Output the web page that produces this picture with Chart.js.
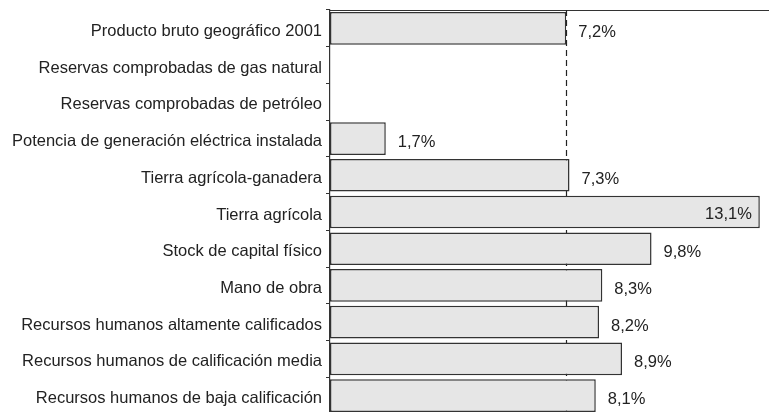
<!DOCTYPE html>
<html>
<head>
<meta charset="utf-8">
<script src="https://cdn.jsdelivr.net/npm/chart.js@4.4.1/dist/chart.umd.min.js"></script>
<style>
  html, body { margin: 0; padding: 0; background: #fff; overflow: hidden; }
  #wrap { width: 769px; height: 416px; }
</style>
</head>
<body>
<div id="wrap"><canvas id="barChart"></canvas></div>
<script>
// Categories and their shares (%)
const categories = [
  'Producto bruto geográfico 2001',
  'Reservas comprobadas de gas natural',
  'Reservas comprobadas de petróleo',
  'Potencia de generación eléctrica instalada',
  'Tierra agrícola-ganadera',
  'Tierra agrícola',
  'Stock de capital físico',
  'Mano de obra',
  'Recursos humanos altamente calificados',
  'Recursos humanos de calificación media',
  'Recursos humanos de baja calificación'
];
const shares = [7.2, null, null, 1.7, 7.3, 13.1, 9.8, 8.3, 8.2, 8.9, 8.1];
const referenceShare = 7.2;  // dashed line at the PBG share

const fontFamily = '"Liberation Sans", Arial, sans-serif';
const fontSize = 16.5;

// Dashed reference line, drawn behind the bars
const refLine = {
  id: 'refLine',
  beforeDatasetsDraw(chart) {
    const { ctx, chartArea, scales } = chart;
    const x = Math.round(scales.x.getPixelForValue(referenceShare)) + 0.5;
    ctx.save();
    ctx.strokeStyle = '#222';
    ctx.lineWidth = 1.2;
    ctx.setLineDash([6, 4]);
    ctx.beginPath();
    ctx.moveTo(x, chartArea.top);
    ctx.lineTo(x, chartArea.bottom);
    ctx.stroke();
    ctx.restore();
  }
};

// Value labels next to each bar (inside for the longest one)
const valueLabels = {
  id: 'valueLabels',
  afterDatasetsDraw(chart) {
    const { ctx } = chart;
    const meta = chart.getDatasetMeta(0);
    ctx.save();
    ctx.font = fontSize + 'px ' + fontFamily;
    ctx.fillStyle = '#222';
    ctx.textBaseline = 'middle';
    meta.data.forEach((bar, i) => {
      const v = shares[i];
      if (v == null) return;
      const text = v.toFixed(1).replace('.', ',') + '%';
      if (v > 12) {
        ctx.textAlign = 'right';
        ctx.fillText(text, bar.x - 8, bar.y + 2);
      } else {
        ctx.textAlign = 'left';
        ctx.fillText(text, bar.x + 12, bar.y + 4);
      }
    });
    ctx.restore();
  }
};

new Chart(document.getElementById('barChart').getContext('2d'), {
  type: 'bar',
  data: {
    labels: categories,
    datasets: [{
      data: shares,
      backgroundColor: '#e6e6e6',
      borderColor: '#333',
      borderWidth: 1.5,
      borderSkipped: false,
      barPercentage: 0.89,
      categoryPercentage: 1.0
    }]
  },
  options: {
    indexAxis: 'y',
    responsive: true,
    maintainAspectRatio: false,
    animation: false,
    layout: { padding: { top: 10, bottom: 2, right: 0, left: 0 } },
    plugins: { legend: { display: false }, tooltip: { enabled: false } },
    scales: {
      x: {
        position: 'top',
        min: 0,
        max: 13.38,
        grid: { display: false, drawTicks: false },
        border: { display: true, color: '#333', width: 1 },
        ticks: { display: false }
      },
      y: {
        offset: true,
        grid: { display: true, drawOnChartArea: false, tickLength: 4, color: '#333', offset: true },
        border: { display: true, color: '#333', width: 1.2 },
        ticks: {
          color: '#222',
          padding: 4,
          labelOffset: 3,
          font: { family: fontFamily, size: fontSize }
        },
        afterFit(scale) {
          scale.width = 330;
          scale.paddingTop = 0;
          scale.paddingBottom = 0;
        }
      }
    }
  },
  plugins: [refLine, valueLabels]
});
</script>
</body>
</html>
